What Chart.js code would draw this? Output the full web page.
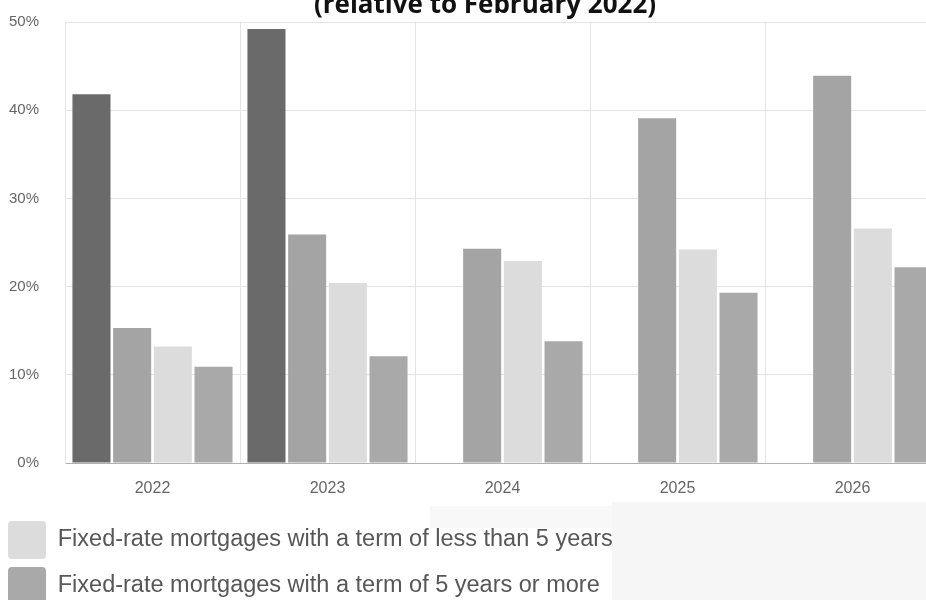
<!DOCTYPE html>
<html>
<head>
<meta charset="utf-8">
<script src="https://cdn.jsdelivr.net/npm/chart.js@4.4.1/dist/chart.umd.min.js"></script>
<style>
  html, body { margin: 0; padding: 0; background: #ffffff; overflow: hidden; }
  body { width: 926px; height: 600px; position: relative; }
  #shade1 { position: absolute; left: 612px; top: 502px; width: 314px; height: 98px; background: #f6f6f6; }
  #shade2 { position: absolute; left: 430px; top: 506px; width: 182px; height: 22px; background: #f8f8f8; }
  #wrap { position: absolute; left: 0; top: -13px; width: 970px; height: 628px; }
</style>
</head>
<body>
<div id="shade1"></div>
<div id="shade2"></div>
<div id="wrap"><canvas id="c"></canvas></div>
<script>
const titleText = "(relative to February 2022)";
const categories = ["2022", "2023", "2024", "2025", "2026"];
const yTicks = [0, 10, 20, 30, 40, 50];

const seriesLabels = [
  "Variable-rate mortgages with fixed payments",
  "Variable-rate mortgages with variable payments",
  "Fixed-rate mortgages with a term of less than 5 years",
  "Fixed-rate mortgages with a term of 5 years or more"
];
const variableFixedPay = [41.8, 49.2, null, null, null];
const variableVarPay   = [15.3, 25.9, 24.3, 39.1, 43.9];
const fixedShort       = [13.2, 20.4, 22.9, 24.2, 26.6];
const fixedLong        = [10.9, 12.1, 13.8, 19.3, 22.2];

const colors = ["#6a6a6a", "#a4a4a4", "#dcdcdc", "#a9a9a9"];
const values = [variableFixedPay, variableVarPay, fixedShort, fixedLong];
const legendShown = [2, 3];

const datasets = values.map((v, i) => ({
  label: seriesLabels[i],
  data: v,
  backgroundColor: colors[i],
  borderWidth: 0,
  categoryPercentage: 0.93,
  barPercentage: 0.935
}));

// Title drawn centred on the full (partly cropped) canvas width
const titlePlugin = {
  id: "croppedTitle",
  afterDraw(chart) {
    const ctx = chart.ctx;
    ctx.save();
    ctx.font = "bold 26px 'Open Sans', 'Liberation Sans', sans-serif";
    ctx.fillStyle = "#111111";
    ctx.textAlign = "center";
    ctx.textBaseline = "alphabetic";
    ctx.fillText(titleText, chart.width / 2, 25.5);
    ctx.restore();
  }
};

new Chart(document.getElementById("c"), {
  type: "bar",
  data: { labels: categories, datasets: datasets },
  plugins: [titlePlugin],
  options: {
    responsive: true,
    maintainAspectRatio: false,
    animation: false,
    layout: { padding: { left: 0, right: 30, top: 34, bottom: 0 } },
    plugins: {
      title: { display: false },
      legend: {
        display: true,
        position: "bottom",
        align: "start",
        labels: {
          filter: (item) => legendShown.includes(item.datasetIndex),
          boxWidth: 38,
          boxHeight: 38,
          padding: 8,
          color: "#575757",
          useBorderRadius: true,
          borderRadius: 4,
          font: { family: "'Liberation Sans', Arial, sans-serif", size: 23.5 }
        }
      },
      tooltip: { enabled: false }
    },
    scales: {
      x: {
        afterFit: (axis) => { axis.height = 50; },
        grid: { display: true, offset: true, color: "#e4e4e4", drawTicks: false },
        border: { display: true, color: "#b0b0b0", width: 1 },
        ticks: {
          color: "#666666",
          padding: 16,
          font: { family: "'Liberation Sans', Arial, sans-serif", size: 16 }
        }
      },
      y: {
        min: 0,
        max: 50,
        afterFit: (axis) => { axis.width = 65; },
        afterBuildTicks: (axis) => { axis.ticks = yTicks.map(v => ({ value: v })); },
        grid: { color: "#e4e4e4", drawTicks: false },
        border: { display: true, color: "#e4e4e4" },
        ticks: {
          color: "#666666",
          padding: 26,
          font: { family: "'Liberation Sans', Arial, sans-serif", size: 15 },
          callback: (v) => v + "%"
        }
      }
    }
  }
});
</script>
</body>
</html>
